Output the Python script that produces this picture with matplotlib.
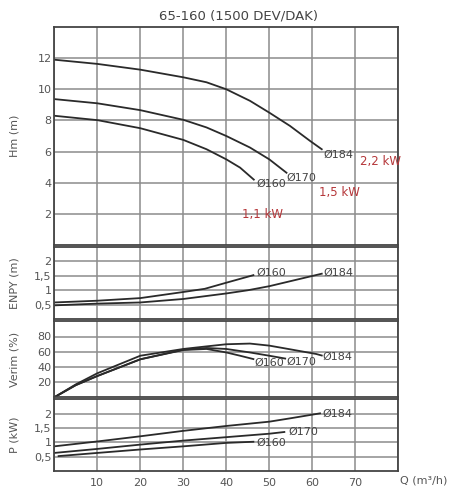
import numpy as np
import matplotlib
matplotlib.use('Agg')
import matplotlib.pyplot as plt

# --- data ---
title = '65-160 (1500 DEV/DAK)'

# Hm (m)
q184_h = [0, 10, 20, 30, 35.4, 40, 45.5, 50, 54.8, 59.5, 62.2]
h184 = [11.9, 11.63, 11.26, 10.77, 10.45, 10.0, 9.26, 8.5, 7.65, 6.68, 6.15]
q170_h = [0, 10, 20, 30, 35.4, 40, 45.5, 50, 54.0]
h170 = [9.37, 9.1, 8.66, 8.04, 7.55, 7.0, 6.26, 5.5, 4.64]
q160_h = [0, 10, 20, 30, 35.4, 40, 43.2, 46.4]
h160 = [8.3, 8.02, 7.5, 6.75, 6.15, 5.5, 4.97, 4.2]

# ENPY (m)
q160_n = [0, 10, 20, 30, 35, 40, 46.3]
n160 = [0.58, 0.64, 0.73, 0.94, 1.05, 1.26, 1.52]
q184_n = [0, 10, 20, 30, 40, 45, 50, 62.2]
n184 = [0.48, 0.54, 0.58, 0.70, 0.89, 1.0, 1.14, 1.57]

# Verim (%)
q184_v = [0, 5, 10, 20, 30, 35.4, 40, 45.5, 50, 55.3, 60.9, 62.2]
v184 = [0, 17, 31.6, 54.7, 63.6, 67, 69.8, 70.7, 68, 62.7, 57, 55]
q170_v = [0, 5, 10, 20, 30, 35.4, 40, 45.5, 50, 53.7]
v170 = [0, 16, 28, 50, 62.7, 64.9, 63.6, 59, 54.7, 51]
q160_v = [0, 5, 10, 20, 30, 35.4, 40, 43.2, 46.3]
v160 = [0, 16, 28, 50, 62.2, 63.6, 59, 54.7, 50.3]

# P (kW)
q184_p = [0, 10, 20, 30, 40, 50, 55, 61.8]
p184 = [0.86, 1.03, 1.21, 1.40, 1.57, 1.72, 1.84, 2.01]
q170_p = [0, 10, 20, 30, 40, 50, 53.5]
p170 = [0.63, 0.77, 0.92, 1.06, 1.18, 1.30, 1.36]
q160_p = [1, 10, 20, 30, 40, 46.3]
p160 = [0.52, 0.63, 0.75, 0.86, 0.98, 1.02]

xticks = [10, 20, 30, 40, 50, 60, 70]
motor_labels = ['2,2 kW', '1,5 kW', '1,1 kW']
motor_pos = [(71.2, 5.35), (61.6, 3.4), (43.7, 1.95)]

lc = '#2a2a2a'
gc = '#8c8c8c'
tc = '#555555'
red = '#b5373a'

fig = plt.figure(figsize=(4.54, 5.0), dpi=100)
L, W = 0.1196, 0.7577
ax1 = fig.add_axes([L, 0.510, W, 0.436])
ax2 = fig.add_axes([L, 0.3614, W, 0.1452])
ax3 = fig.add_axes([L, 0.2054, W, 0.152])
ax4 = fig.add_axes([L, 0.058, W, 0.1434])

def style(ax, ylim, yt, ylab, labely):
    ax.set_xlim(0, 80)
    ax.set_ylim(*ylim)
    ax.set_xticks(np.arange(0, 81, 10))
    ax.set_yticks(yt)
    ax.set_yticklabels(ylab)
    ax.grid(True, color=gc, lw=1.1)
    ax.set_axisbelow(True)
    ax.tick_params(length=0, labelsize=8, colors=tc, pad=2)
    for s in ax.spines.values():
        s.set_color('#444444')
        s.set_linewidth(1.3)
    ax.set_ylabel(labely, fontsize=8, color=tc)
    ax.yaxis.set_label_coords(-0.10, 0.5)

style(ax1, (0, 14), [2, 4, 6, 8, 10, 12], ['2', '4', '6', '8', '10', '12'], 'Hm (m)')
style(ax2, (0, 2.5), [0.5, 1, 1.5, 2], ['0,5', '1', '1,5', '2'], 'ENPY (m)')
style(ax3, (0, 100), [20, 40, 60, 80], ['20', '40', '60', '80'], 'Verim (%)')
style(ax4, (0, 2.5), [0.5, 1, 1.5, 2], ['0,5', '1', '1,5', '2'], 'P (kW)')

for ax in (ax1, ax2, ax3):
    ax.set_xticklabels([])
ax4.set_xticklabels([''] + [str(t) for t in xticks] + [''])
ax4.tick_params(axis='x', pad=5)

kw = dict(color=lc, lw=1.3)
ax1.plot(q184_h, h184, **kw)
ax1.plot(q170_h, h170, **kw)
ax1.plot(q160_h, h160, **kw)
ax2.plot(q160_n, n160, **kw)
ax2.plot(q184_n, n184, **kw)
ax3.plot(q184_v, v184, **kw)
ax3.plot(q170_v, v170, **kw)
ax3.plot(q160_v, v160, **kw)
ax4.plot(q184_p, p184, **kw)
ax4.plot(q170_p, p170, **kw)
ax4.plot(q160_p, p160, **kw)

fs = 8
def lab(ax, x, y, s):
    ax.text(x, y, s, fontsize=fs, color='#444444', va='center', ha='left')

lab(ax1, 62.5, 5.8, 'Ø184')
lab(ax1, 54.0, 4.3, 'Ø170')
lab(ax1, 47.0, 3.9, 'Ø160')
lab(ax2, 47.0, 1.6, 'Ø160')
lab(ax2, 62.6, 1.6, 'Ø184')
lab(ax3, 46.5, 45, 'Ø160')
lab(ax3, 54.0, 47, 'Ø170')
lab(ax3, 62.3, 53, 'Ø184')
lab(ax4, 62.3, 2.0, 'Ø184')
lab(ax4, 54.5, 1.36, 'Ø170')
lab(ax4, 47.0, 0.98, 'Ø160')

for s, (x, y) in zip(motor_labels, motor_pos):
    ax1.text(x, y, s, fontsize=8.5, color=red, va='center', ha='left')

fig.text(0.525, 0.968, title, fontsize=9.5, color='#444444', ha='center', va='center')
ax4.text(1.005, -0.13, 'Q (m³/h)', transform=ax4.transAxes, fontsize=8,
         color=tc, ha='left', va='center')

plt.savefig('out.png', dpi=100)
